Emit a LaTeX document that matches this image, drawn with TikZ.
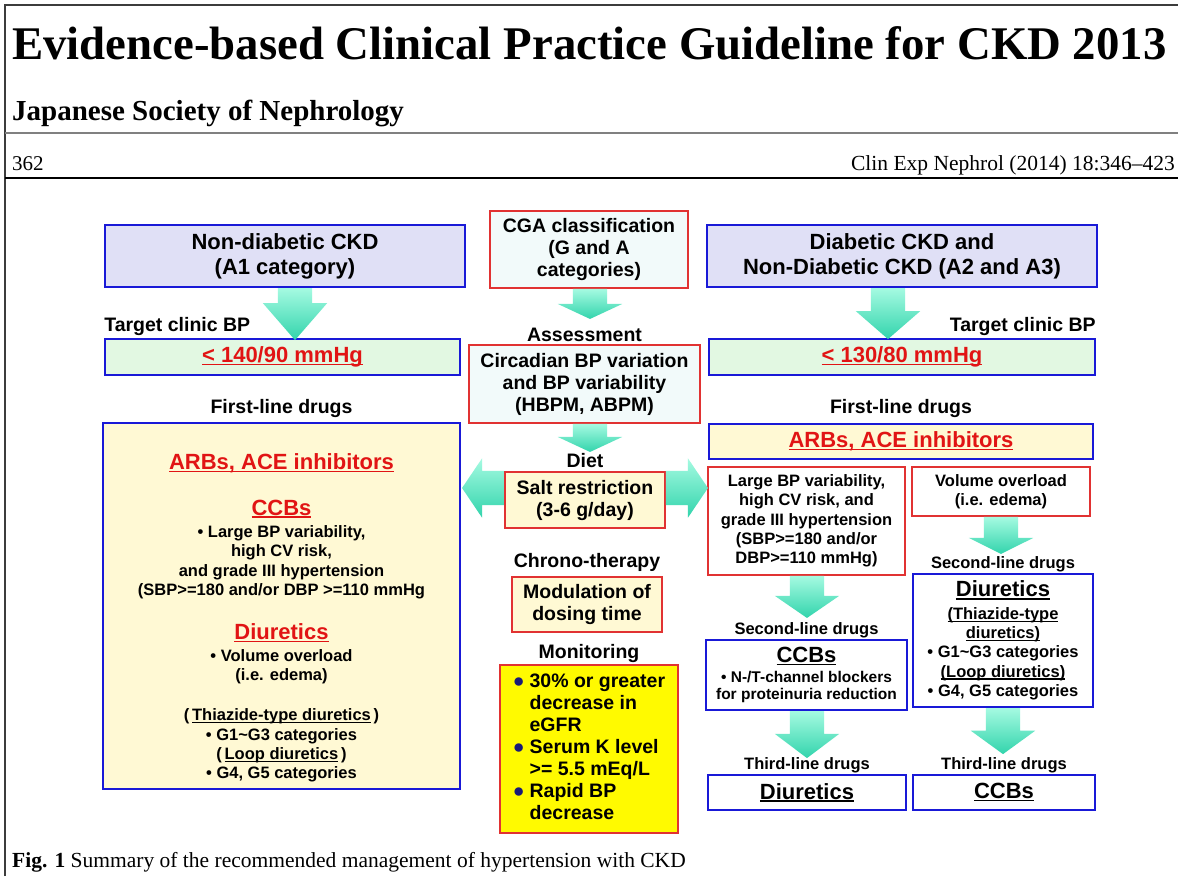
\documentclass[tikz,border=0pt]{standalone}
\usepackage{fontspec}
\setmainfont{Liberation Serif}
\setsansfont{Liberation Sans}
\usetikzlibrary{shapes.arrows, positioning}

\definecolor{framegray}{RGB}{60,60,60}
\definecolor{boxblue}{RGB}{25,25,215}
\definecolor{boxred}{RGB}{225,50,50}
\definecolor{lavfill}{RGB}{224,224,246}
\definecolor{greenfill}{RGB}{226,248,226}
\definecolor{creamfill}{RGB}{255,249,212}
\definecolor{icefill}{RGB}{242,250,250}
\definecolor{monyellow}{RGB}{255,250,0}
\definecolor{txtred}{RGB}{225,20,20}
\definecolor{dotblue}{RGB}{25,25,120}
\definecolor{arrowtop}{RGB}{165,250,225}
\definecolor{arrowbot}{RGB}{50,212,172}

\newcommand\fbig{\fontsize{22}{25}\selectfont}
\newcommand\fmid{\fontsize{19.5}{22}\selectfont}
\newcommand\fsmall{\fontsize{16.5}{19.3}\selectfont}
\newcommand\ftiny{\fontsize{15.5}{17.5}\selectfont}
\newcommand\ulbox[1]{\setbox0=\hbox{#1}\leavevmode\rlap{\rule[-2.6pt]{\wd0}{1.3pt}}\box0}
\newcommand\redul[1]{{\color{txtred}\ulbox{#1}}}
\newcommand\mdot{{\color{dotblue}●}}

\tikzset{
  bbox/.style={draw=boxblue, line width=1.8pt, inner sep=0pt, align=center,
               font=\sffamily\bfseries\fmid},
  rbox/.style={bbox, draw=boxred, line width=1.5pt},
  lbl/.style={inner sep=0pt, font=\sffamily\bfseries\fmid},
  slbl/.style={lbl, font=\sffamily\bfseries\fsmall},
  fatarrow/.style={single arrow, draw=none, inner xsep=0pt, inner ysep=17pt,
                   single arrow head extend=15pt, top color=arrowtop,
                   bottom color=arrowbot, anchor=tail},
  fatdown/.style={fatarrow, shape border rotate=270, inner xsep=17pt, inner ysep=0pt},
}

\begin{document}
\begin{tikzpicture}[x=1pt, y=-1pt]
\useasboundingbox (0,0) rectangle (1178,876);
\fill[white] (0,0) rectangle (1178,876);

% page head
\draw[framegray, line width=1.5pt] (5,876) -- (5,5) -- (1178,5);
\node[anchor=base west, inner sep=0pt, font=\bfseries\fontsize{46.8}{50}\selectfont]
  (title) at (12,59) {Evidence-based Clinical Practice Guideline for CKD 2013};
\node[anchor=base west, inner sep=0pt, font=\bfseries\fontsize{29}{32}\selectfont]
  (society) at (12,120) {Japanese Society of Nephrology};
\draw[gray, line width=2pt] (5,133) -- (1178,133);
\node[anchor=base west, inner sep=0pt, font=\fontsize{21}{24}\selectfont]
  (page) at (12,170) {362};
\node[anchor=base east, inner sep=0pt, font=\fontsize{21.5}{24}\selectfont]
  (journal) at (1175,170) {Clin Exp Nephrol (2014) 18:346–423};
\draw[black, line width=2.5pt] (5,178) -- (1178,178);

% top row
\node[bbox, fill=lavfill, font=\sffamily\bfseries\fbig, minimum width=360pt, minimum height=62pt]
  (nonA) at (285,256) {Non-diabetic CKD\\(A1 category)};
\node[rbox, fill=icefill, minimum width=198pt, minimum height=77pt]
  (cga) at (589,249.5) {CGA classification\\(G and A\\categories)};
\node[bbox, fill=lavfill, font=\sffamily\bfseries\fbig, minimum width=390pt, minimum height=62pt]
  (dia) at (902,256) {Diabetic CKD and\\Non-Diabetic CKD (A2 and A3)};

% targets
\node[bbox, fill=greenfill, font=\sffamily\bfseries\fbig, minimum width=355pt, minimum height=36pt]
  (tgtL) at (282.5,357) {\redul{< 140/90 mmHg}};
\node[bbox, fill=greenfill, font=\sffamily\bfseries\fbig, minimum width=386pt, minimum height=36pt]
  (tgtR) at (902,357) {\redul{< 130/80 mmHg}};
\node[lbl, anchor=south west, yshift=2pt] (tgtLlbl) at (tgtL.north west) {Target clinic BP};
\node[lbl, anchor=south east, yshift=2pt] (tgtRlbl) at (tgtR.north east) {Target clinic BP};

% centre column
\node[rbox, fill=icefill, minimum width=231pt, minimum height=78pt]
  (circ) at (584.5,384) {Circadian BP variation\\and BP variability\\(HBPM, ABPM)};
\node[lbl, above=2pt of circ] (assess) {Assessment};
\node[rbox, fill=creamfill, minimum width=160pt, minimum height=56pt]
  (salt) at (585,500) {Salt restriction\\(3-6 g/day)};
\node[lbl, above=3pt of salt] (diet) {Diet};
\node[rbox, fill=creamfill, minimum width=150pt, minimum height=55pt]
  (mod) at (587,604.5) {Modulation of\\dosing time};
\node[lbl, above=5pt of mod] (chrono) {Chrono-therapy};
\node[rbox, fill=monyellow, line width=1.8pt, minimum width=178pt, minimum height=168pt]
  (mon) at (589,749) {\begin{tabular}{@{}l@{\hspace{5pt}}l@{}}
    \mdot & 30\% or greater\\ & decrease in\\ & eGFR\\
    \mdot & Serum K level\\ & >= 5.5 mEq/L\\
    \mdot & Rapid BP\\ & decrease
  \end{tabular}};
\node[lbl, above=1pt of mon] (monlbl) {Monitoring};

% left column
\node[bbox, fill=creamfill, font=\sffamily\bfseries\fsmall, minimum width=357pt, minimum height=366pt]
  (drugL) at (281.5,606) {%
  \rule{0pt}{40pt}{\fbig\redul{ARBs, ACE inhibitors}}\\[26pt]
  {\fbig\redul{CCBs}}\\[3pt]
  • Large BP variability,\\high CV risk,\\and grade III hypertension\\
  (SBP>=180 and/or DBP >=110 mmHg\\[24pt]
  {\fbig\redul{Diuretics}}\\[2pt]
  • Volume overload\\(i.e. edema)\\[21pt]
  (\,\ulbox{Thiazide-type diuretics}\,)\\• G1\textasciitilde G3 categories\\
  (\,\ulbox{Loop diuretics}\,)\\• G4, G5 categories};
\node[lbl, above=4pt of drugL] (fldL) {First-line drugs};

% right column
\node[bbox, fill=creamfill, font=\sffamily\bfseries\fbig, minimum width=384pt, minimum height=35pt]
  (arbR) at (901,441.5) {\redul{ARBs, ACE inhibitors}};
\node[lbl, above=5pt of arbR] (fldR) {First-line drugs};
\node[rbox, fill=white, font=\sffamily\bfseries\fsmall, minimum width=197pt, minimum height=108pt]
  (large) at (806.5,521) {Large BP variability,\\high CV risk, and\\grade III hypertension\\(SBP>=180 and/or\\DBP>=110 mmHg)};
\node[rbox, fill=white, font=\sffamily\bfseries\fsmall, minimum width=178pt, minimum height=49pt]
  (vol) at (1001,491.5) {Volume overload\\(i.e. edema)};
\node[bbox, fill=white, font=\sffamily\bfseries\fsmall, minimum width=180pt, minimum height=133pt]
  (diuR) at (1003,640.5) {{\fbig\ulbox{Diuretics}}\\[3pt]
  \ulbox{(Thiazide-type}\\\ulbox{diuretics)}\\• G1\textasciitilde G3 categories\\
  \ulbox{(Loop diuretics)}\\• G4, G5 categories};
\node[slbl, above=1pt of diuR] (sldR) {Second-line drugs};
\node[bbox, fill=white, font=\sffamily\bfseries\ftiny, minimum width=201pt, minimum height=70pt]
  (ccbR) at (806.5,675) {{\fbig\ulbox{CCBs}}\\[2pt]• N-/T-channel blockers\\for proteinuria reduction};
\node[slbl, above=1pt of ccbR] (sldL) {Second-line drugs};
\node[bbox, fill=white, font=\sffamily\bfseries\fbig, minimum width=198pt, minimum height=35pt]
  (thirdL) at (807,792.5) {\ulbox{Diuretics}};
\node[bbox, fill=white, font=\sffamily\bfseries\fbig, minimum width=182pt, minimum height=35pt]
  (thirdR) at (1004,792.5) {\ulbox{CCBs}};
\node[slbl, above=1pt of thirdL] (tldL) {Third-line drugs};
\node[slbl, above=1pt of thirdR] (tldR) {Third-line drugs};

% fat arrows
\node[fatdown, minimum height=52pt, single arrow tip angle=82] (arA) at (nonA.south -| 295,0) {};
\node[fatdown, minimum height=51pt, single arrow tip angle=98] (arD) at (dia.south -| 888,0) {};
\node[fatdown, minimum height=30pt, single arrow tip angle=130] (arC) at (cga.south -| 590,0) {};
\node[fatdown, minimum height=28pt, single arrow tip angle=130] (arE) at (circ.south -| 590,0) {};
\node[fatarrow, shape border rotate=180, minimum height=42pt, single arrow head extend=12.5pt,
      single arrow tip angle=112] (arLeft) at ([yshift=12pt]salt.west) {};
\node[fatarrow, minimum height=42pt, single arrow head extend=12.5pt,
      single arrow tip angle=112] (arRight) at ([yshift=12pt]salt.east) {};
\node[fatdown, minimum height=37pt, single arrow tip angle=127] (arV) at (vol.south -| 1001,0) {};
\node[fatdown, minimum height=42pt, single arrow tip angle=111] (arL) at (large.south -| 807,0) {};
\node[fatdown, minimum height=47pt, single arrow tip angle=106] (arCL) at (ccbR.south -| 807,0) {};
\node[fatdown, minimum height=46pt, single arrow tip angle=108] (arDR) at (diuR.south -| 1003,0) {};

\node[anchor=base west, inner sep=0pt, font=\fontsize{21.5}{24}\selectfont]
  (caption) at (12,867) {\textbf{Fig. 1} Summary of the recommended management of hypertension with CKD};
\end{tikzpicture}
\end{document}
